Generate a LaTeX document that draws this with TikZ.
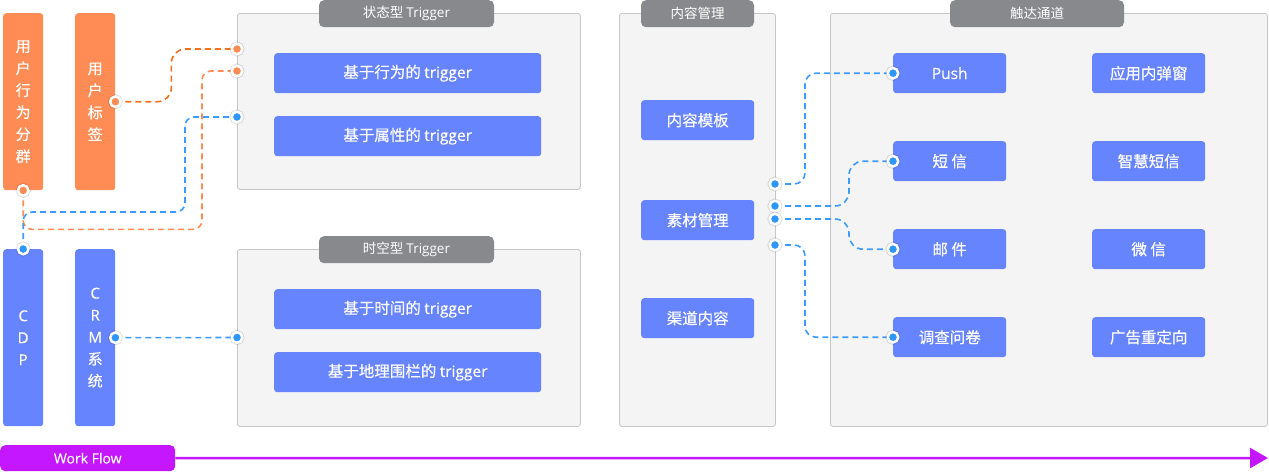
\documentclass[tikz,border=0pt]{standalone}
\usepackage{fontspec}
\setmainfont{Noto Sans CJK SC}
\newfontfamily\cjkmed{Noto Sans CJK SC}[FakeBold=0.35]
\newfontfamily\latmed{Open Sans}[FakeBold=0.3]
\newfontfamily\latreg{Open Sans}
\usetikzlibrary{arrows.meta,calc}
\definecolor{orangebar}{HTML}{FF8C55}
\definecolor{orangeline}{HTML}{F5701E}
\definecolor{boxblue}{HTML}{6784FF}
\definecolor{dotblue}{HTML}{2E96FF}
\definecolor{lineblue}{HTML}{3D9BFF}
\definecolor{tabgray}{HTML}{88898D}
\definecolor{panelfill}{HTML}{F4F4F4}
\definecolor{panelborder}{HTML}{C6C6C6}
\definecolor{wfpurple}{HTML}{C517FF}
\begin{document}
\begin{tikzpicture}[x=1pt,y=-1pt,
  bar/.style={fill=#1, rounded corners=3, minimum width=40, minimum height=177, inner sep=0,
    text=white, font=\fontsize{15}{22}\selectfont\cjkmed, align=center, anchor=north west},
  panel/.style={fill=panelfill, draw=panelborder, line width=0.8, rounded corners=2.5, inner sep=0, anchor=north west},
  tab/.style={fill=tabgray, rounded corners=5, minimum height=27, inner sep=0, text=white,
    font=\fontsize{13.5}{15}\selectfont, anchor=north},
  bbox/.style={fill=boxblue, rounded corners=3, minimum height=40, inner sep=0, text=white,
    font=\fontsize{15.5}{17}\selectfont\cjkmed, anchor=north west},
  dot/.style={circle, fill=#1, draw=white, line width=2.5, minimum size=10.5, inner sep=0,
    preaction={draw=black, draw opacity=0.12, line width=4.5}},
  conn/.style={draw=#1, line width=1.6, dash pattern=on 6pt off 4pt},
  wfbox/.style={fill=wfpurple, rounded corners=5, minimum width=175, minimum height=26, inner sep=0,
    text=white, font=\fontsize{14}{16}\selectfont\latmed, anchor=north west}
]
\useasboundingbox (0,0) rectangle (1269,472);

% left bars
\node[bar=orangebar] (ub) at (3,13) {用\\户\\行\\为\\分\\群};
\node[bar=orangebar] (ul) at (75,13) {用\\户\\标\\签};
\node[bar=boxblue] (cdp) at (3,249) {\latmed C\\\latmed D\\\latmed P};
\node[bar=boxblue] (crm) at (75,249) {\latmed C\\\latmed R\\\latmed M\\系\\统};

% trigger panels
\node[panel, minimum width=343, minimum height=176] (p1) at (237,13) {};
\node[tab, minimum width=175] (t1) at (406.5,0) {状态型 {\latreg Trigger}};
\node[bbox, minimum width=267] (b1) at (274,53) {基于行为的 {\latmed trigger}};
\node[bbox, minimum width=267] (b2) at (274,116) {基于属性的 {\latmed trigger}};

\node[panel, minimum width=343, minimum height=177] (p2) at (237,249) {};
\node[tab, minimum width=175] (t2) at (406.5,236) {时空型 {\latreg Trigger}};
\node[bbox, minimum width=267] (b3) at (274,289) {基于时间的 {\latmed trigger}};
\node[bbox, minimum width=267] (b4) at (274,352) {基于地理围栏的 {\latmed trigger}};

% content panel
\node[panel, minimum width=156, minimum height=413] (p3) at (619,13) {};
\node[tab, minimum width=113] (t3) at (697.5,0) {内容管理};
\node[bbox, minimum width=113] (m1) at (641,100) {内容模板};
\node[bbox, minimum width=113] (m2) at (641,200) {素材管理};
\node[bbox, minimum width=113] (m3) at (641,298) {渠道内容};

% channel panel
\node[panel, minimum width=437, minimum height=413] (p4) at (830,13) {};
\node[tab, minimum width=174] (t4) at (1037,0) {触达通道};
\node[bbox, minimum width=113] (push) at (893,53) {\latmed Push};
\node[bbox, minimum width=113] (sms) at (893,141) {短 信};
\node[bbox, minimum width=113] (mail) at (893,229) {邮 件};
\node[bbox, minimum width=113] (survey) at (893,317) {调查问卷};
\node[bbox, minimum width=113] (app) at (1092,53) {应用内弹窗};
\node[bbox, minimum width=113] (ssms) at (1092,141) {智慧短信};
\node[bbox, minimum width=113] (wx) at (1092,229) {微 信};
\node[bbox, minimum width=113] (ad) at (1092,317) {广告重定向};

% connector ends
\coordinate (s1) at (237,49);
\coordinate (s2) at (237,71);
\coordinate (s3) at (237,117);
\coordinate (s4) at (237,337.5);
\coordinate (c1) at (775,184);
\coordinate (c2) at (775,206);
\coordinate (c3) at (775,219);
\coordinate (c4) at (775,245);

% connectors
\draw[conn=orangeline, rounded corners=14] (ul.east) -- ++(56,0) |- (s1);
\draw[conn=orangebar, rounded corners=9] (ub.south) -- ++(0,39) -| ([xshift=-35]s2) -- (s2);
\draw[conn=lineblue, rounded corners=9] (cdp.north) -- ++(0,-37) -| ([xshift=-52]s3) -- (s3);
\draw[conn=lineblue] (crm.east) -- (s4);
\draw[conn=lineblue, rounded corners=11] (c1) -- ++(30,0) |- (push.west);
\draw[conn=lineblue, rounded corners=14] (c2) -- ++(74,0) |- (sms.west);
\draw[conn=lineblue, rounded corners=14] (c3) -- ++(74,0) |- (mail.west);
\draw[conn=lineblue, rounded corners=11] (c4) -- ++(30,0) |- (survey.west);

% dots
\node[dot=orangebar] at (ub.south) {};
\node[dot=orangebar] at (ul.east) {};
\node[dot=dotblue] at (cdp.north) {};
\node[dot=dotblue] at (crm.east) {};
\node[dot=orangebar] at (s1) {};
\node[dot=orangebar] at (s2) {};
\node[dot=dotblue] at (s3) {};
\node[dot=dotblue] at (s4) {};
\foreach \c in {c1,c2,c3,c4} \node[dot=dotblue] at (\c) {};
\foreach \c in {push,sms,mail,survey} \node[dot=dotblue] at (\c.west) {};

% work flow
\node[wfbox] (wf) at (0,445) {Work Flow};
\coordinate (wfend) at (1268,458);
\draw[wfpurple, line width=2.5, -{Triangle[length=18,width=20]}] (wf.east) -- (wfend);
\end{tikzpicture}
\end{document}
